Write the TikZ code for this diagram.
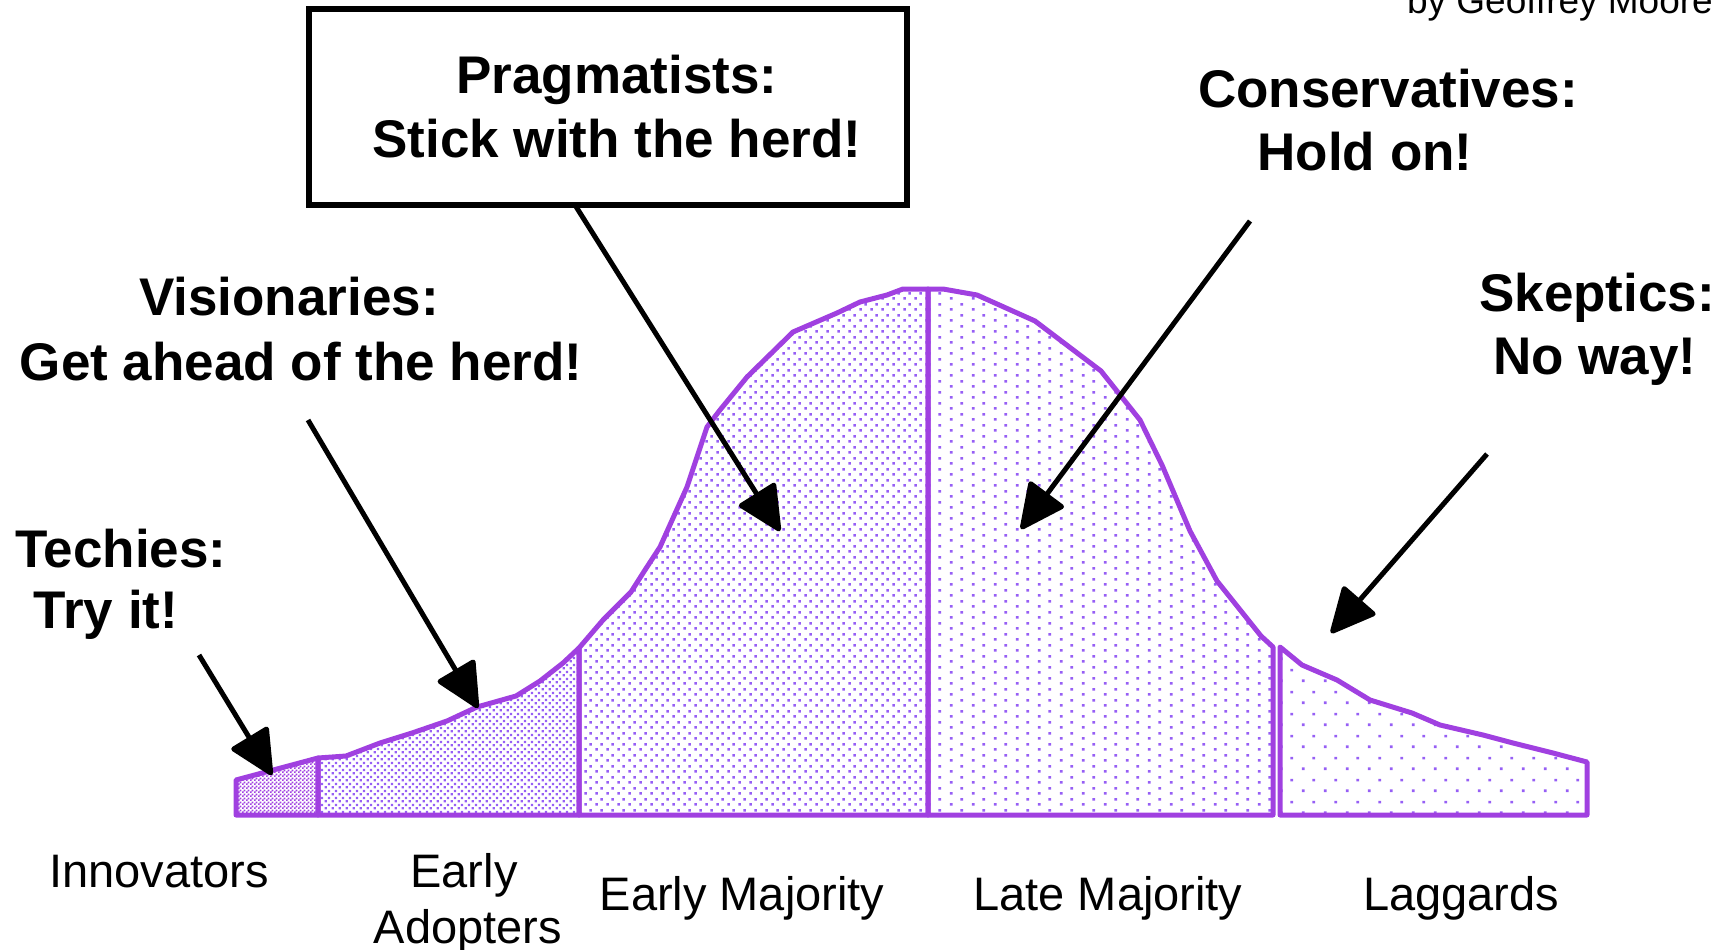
\documentclass[tikz,border=0pt]{standalone}
\usepackage{fontspec}
\setmainfont{Liberation Sans}
\usetikzlibrary{patterns,arrows.meta}
\definecolor{curve}{RGB}{160,64,224}
\definecolor{dotc}{RGB}{150,95,245}
% dot patterns (form only, coloured by pattern color)
\pgfdeclarepatternformonly{innovdots}{\pgfpointorigin}{\pgfpoint{3.6pt}{3.6pt}}{\pgfpoint{3.6pt}{3.6pt}}{%
  \pgfpathrectangle{\pgfpointorigin}{\pgfpoint{1.8pt}{1.8pt}}%
  \pgfpathrectangle{\pgfpoint{1.8pt}{1.8pt}}{\pgfpoint{1.8pt}{1.8pt}}%
  \pgfusepath{fill}}
\pgfdeclarepatternformonly{adoptdots}{\pgfpointorigin}{\pgfpoint{7.4pt}{7.4pt}}{\pgfpoint{7.4pt}{7.4pt}}{%
  \pgfpathrectangle{\pgfpoint{0.6pt}{0.6pt}}{\pgfpoint{2.4pt}{2.4pt}}%
  \pgfpathrectangle{\pgfpoint{4.3pt}{4.3pt}}{\pgfpoint{2.4pt}{2.4pt}}%
  \pgfusepath{fill}}
\pgfdeclarepatternformonly{emajdots}{\pgfpointorigin}{\pgfpoint{11pt}{11pt}}{\pgfpoint{11pt}{11pt}}{%
  \pgfpathrectangle{\pgfpoint{1.4pt}{1.4pt}}{\pgfpoint{2.7pt}{2.7pt}}%
  \pgfpathrectangle{\pgfpoint{6.9pt}{6.9pt}}{\pgfpoint{2.7pt}{2.7pt}}%
  \pgfusepath{fill}}
\pgfdeclarepatternformonly{lmajdots}{\pgfpointorigin}{\pgfpoint{22pt}{11pt}}{\pgfpoint{22pt}{11pt}}{%
  \pgfpathrectangle{\pgfpoint{4.1pt}{1.4pt}}{\pgfpoint{2.8pt}{2.8pt}}%
  \pgfpathrectangle{\pgfpoint{15.1pt}{6.9pt}}{\pgfpoint{2.8pt}{2.8pt}}%
  \pgfusepath{fill}}
\pgfdeclarepatternformonly{laggdots}{\pgfpointorigin}{\pgfpoint{22pt}{22pt}}{\pgfpoint{22pt}{22pt}}{%
  \pgfpathrectangle{\pgfpoint{4.1pt}{4.1pt}}{\pgfpoint{2.8pt}{2.8pt}}%
  \pgfpathrectangle{\pgfpoint{15.1pt}{15.1pt}}{\pgfpoint{2.8pt}{2.8pt}}%
  \pgfusepath{fill}}
\tikzset{
  region/.style={draw=curve, line width=5pt, line join=round, pattern color=dotc},
  boldtxt/.style={font=\fontsize{53}{60}\selectfont\bfseries, inner sep=0pt, anchor=base},
  lab/.style={font=\fontsize{47}{54}\selectfont, inner sep=0pt, anchor=base},
  pointer/.style={line width=5pt, -{Triangle[length=48pt,width=45pt,round]}},
}
\begin{document}
\begin{tikzpicture}[x=1pt,y=-1pt]
\useasboundingbox (0,0) rectangle (1735,950);
% curve regions
\path[region, pattern=innovdots, pattern color=curve]
  (236,815) -- (236,780) -- (318,758) -- (318,815) -- cycle;
\path[region, pattern=adoptdots]
  (318,815) -- (318,758) -- (346,756) -- (380,743) -- (412,733) -- (447,721) -- (477,707)
  -- (516,696) -- (540,681) -- (563,663) -- (579,648) -- (579,815) -- cycle;
\path[region, pattern=emajdots]
  (579,815) -- (579,648) -- (603,620) -- (631,592) -- (645,570) -- (660,547) -- (687,487)
  -- (707,427) -- (720,410) -- (747,377) -- (793,332) -- (837,313) -- (860,302)
  -- (887,295) -- (903,289) -- (928,289) -- (928,815) -- cycle;
\path[region, pattern=lmajdots]
  (928,815) -- (928,289) -- (943,289) -- (977,295) -- (1035,321) -- (1101,371)
  -- (1140,420) -- (1162,465) -- (1190,531) -- (1217,581) -- (1261,636) -- (1273,647)
  -- (1273,815) -- cycle;
\path[region, pattern=laggdots]
  (1280,815) -- (1280,647) -- (1302,665) -- (1337,680) -- (1370,700) -- (1412,713)
  -- (1440,725) -- (1483,735) -- (1513,743) -- (1553,753) -- (1587,762) -- (1587,815) -- cycle;

% author line
\node[font=\fontsize{37}{42}\selectfont, inner sep=0pt, anchor=base east] (author) at (1713,14) {by Geoffrey Moore};

% Pragmatists box
\node[draw, line width=5.5pt, minimum width=598pt, minimum height=196pt, inner sep=0pt] (pragbox) at (608,107) {};
\node[boldtxt] (prag1) at (617,93) {Pragmatists:};
\node[boldtxt] (prag2) at (617,157) {Stick with the herd!};

% other headings
\node[boldtxt] (cons1) at (1388,107) {Conservatives:};
\node[boldtxt] (cons2) at (1365,170) {Hold on!};
\node[boldtxt] (vis1) at (289,315) {Visionaries:};
\node[boldtxt] (vis2) at (301,380) {Get ahead of the herd!};
\node[boldtxt] (tech1) at (121,567) {Techies:};
\node[boldtxt] (tech2) at (106,628) {Try it!};
\node[boldtxt] (skep1) at (1597,311) {Skeptics:};
\node[boldtxt] (skep2) at (1595,374) {No way!};

% category labels
\node[lab] (innov) at (159,887) {Innovators};
\node[lab] (early1) at (464,887) {Early};
\node[lab] (early2) at (468,943) {Adopters};
\node[lab] (emaj) at (742,910) {Early Majority};
\node[lab] (lmaj) at (1108,910) {Late Majority};
\node[lab] (lagg) at (1461,910) {Laggards};

% arrows
\coordinate (pragfrom) at (575,205);
\coordinate (pragto) at (780,531);
\coordinate (consfrom) at (1250,221);
\coordinate (consto) at (1021,529);
\coordinate (visfrom) at (308,420);
\coordinate (visto) at (478,708);
\coordinate (techfrom) at (199,655);
\coordinate (techto) at (272,775);
\coordinate (skepfrom) at (1487,454);
\coordinate (skepto) at (1331,633);
\draw[pointer] (pragfrom) -- (pragto);
\draw[pointer] (consfrom) -- (consto);
\draw[pointer] (visfrom) -- (visto);
\draw[pointer] (techfrom) -- (techto);
\draw[pointer] (skepfrom) -- (skepto);
\end{tikzpicture}
\end{document}
